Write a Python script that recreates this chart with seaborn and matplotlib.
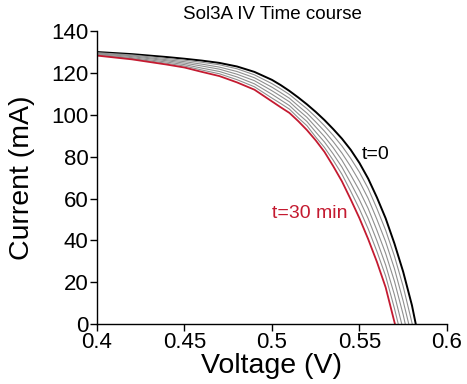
import numpy as np
import pandas as pd
import matplotlib
matplotlib.use("Agg")
import matplotlib.pyplot as plt
from matplotlib.ticker import FormatStrFormatter
import seaborn as sns

# IV curves, t=0 (black) ... t=30 min (red)
grid = [0.40, 0.42, 0.44, 0.45, 0.46, 0.47, 0.48, 0.49, 0.50, 0.505,
        0.51, 0.515, 0.52, 0.525, 0.53, 0.535, 0.54, 0.545, 0.55, 0.555,
        0.56, 0.565, 0.57, 0.575, 0.58]

times = ["t=0", "5", "10", "15", "20", "25", "t=30 min"]
voc = [0.5822, 0.5802, 0.5782, 0.5762, 0.5742, 0.5722, 0.5703]

i_t0 = [130, 129, 127.6, 126.8, 125.9, 124.8, 123.1, 120.5, 116.7, 114.2,
        111.4, 108.3, 105, 101.4, 97.5, 93.2, 88.6, 83.3, 77, 69.5,
        60.5, 50.5, 38.5, 25, 9]
i_t5 = [129.7, 128.6, 126.9, 126.1, 125.1, 123.9, 122.0, 119.1, 114.9, 112.4,
        109.7, 106.3, 102.9, 99.0, 94.8, 90.2, 85.1, 79.2, 72.6, 64.8,
        55.2, 44.8, 32.5, 18]
i_t10 = [129.4, 128.2, 126.3, 125.4, 124.2, 122.8, 120.7, 117.7, 113.2, 110.6,
         107.9, 104.3, 100.8, 96.6, 92.2, 87.2, 81.7, 75.3, 68.2, 60.0,
         50.0, 39.3, 26.5, 11]
i_t15 = [129.2, 127.8, 125.8, 124.7, 123.3, 121.8, 119.4, 116.3, 111.5, 108.9,
         106.2, 102.4, 98.8, 94.2, 89.6, 84.3, 78.3, 71.3, 63.8, 55.2,
         44.8, 33.7, 20.5, 4.5]
i_t20 = [128.9, 127.3, 125.2, 124.0, 122.3, 120.7, 118.1, 114.8, 109.8, 107.1,
         104.4, 100.5, 96.8, 91.8, 87.0, 81.3, 75.0, 67.4, 59.4, 50.4,
         39.8, 28.2, 14]
i_t25 = [128.6, 126.9, 124.6, 123.3, 121.4, 119.6, 116.8, 113.4, 108.0, 105.4,
         102.7, 98.6, 94.8, 89.4, 84.4, 78.3, 71.6, 63.5, 55.0, 45.5,
         34.7, 22.9, 7.5]
i_t30 = [128.3, 126.5, 124, 122.6, 120.5, 118.5, 115.5, 112, 106.4, 103.6,
         100.9, 97, 92.7, 87.8, 82.3, 75.5, 68.2, 59.6, 50.6, 40.6,
         29.7, 17.5]

currents = [i_t0, i_t5, i_t10, i_t15, i_t20, i_t25, i_t30]

rows = []
for t, vo, cur in zip(times, voc, currents):
    vs = grid[:len(cur)] + [vo]
    cs = cur + [0]
    for order, (v, c) in enumerate(zip(vs, cs)):
        rows.append({"t": t, "V": v, "I": c, "order": order})
df = pd.DataFrame(rows)

red = "#c41a30"
gray = "#8f8f8f"
palette = {"t=0": "black", "5": gray, "10": gray, "15": gray,
           "20": gray, "25": gray, "t=30 min": red}
widths = {"t=0": 1.4, "5": 0.8, "10": 0.8, "15": 0.8, "20": 0.8, "25": 0.8,
          "t=30 min": 1.3}

sns.set_theme(style="ticks")
plt.rcParams["font.family"] = ["Liberation Sans", "DejaVu Sans"]
for key in ["text.color", "axes.labelcolor", "xtick.color", "ytick.color"]:
    plt.rcParams[key] = "black"

fig = plt.figure(figsize=(4.67, 3.84), dpi=100)
ax = fig.add_axes([0.2077, 0.156, 0.7493, 0.763])

for t in times:
    sub = df[df["t"] == t].sort_values("order")
    sns.lineplot(data=sub, x="V", y="I", color=palette[t], lw=widths[t],
                 sort=False, estimator=None, ax=ax, legend=False)

ax.set_xlim(0.4, 0.6)
ax.set_ylim(0, 140)
ax.set_xticks([0.4, 0.45, 0.5, 0.55, 0.6])
ax.set_yticks(np.arange(0, 141, 20))
ax.xaxis.set_major_formatter(FormatStrFormatter("%g"))
ax.tick_params(axis="both", labelsize=16, length=5, width=1, color="black",
               pad=1, direction="out")
for s in ["left", "bottom"]:
    ax.spines[s].set_color("black")
    ax.spines[s].set_linewidth(1)
sns.despine(ax=ax)

ax.set_xlabel("Voltage (V)", fontsize=20.5, labelpad=0)
ax.set_ylabel("Current (mA)", fontsize=20.5, labelpad=12)
ax.set_title("Sol3A IV Time course", fontsize=13.5, pad=9)

ax.text(0.5594, 81, "t=0", fontsize=14, color="black", ha="center", va="center")
ax.text(0.5217, 53, "t=30 min", fontsize=14, color=red, ha="center", va="center")

fig.savefig("out.png", dpi=100)
